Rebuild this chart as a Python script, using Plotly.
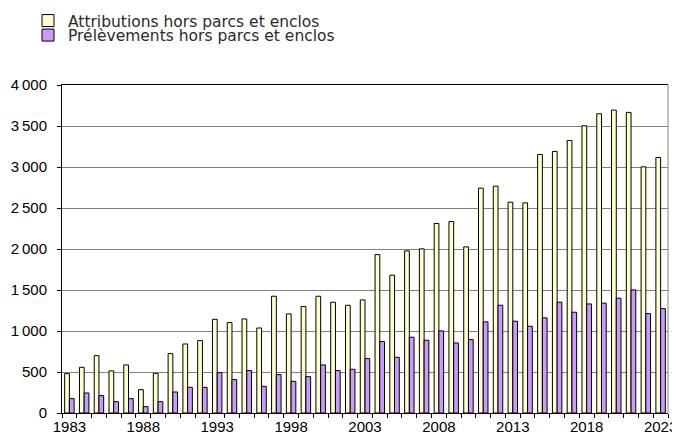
import plotly.graph_objects as go

years = list(range(1983, 2024))
attributions = [480, 557, 700, 513, 586, 285, 484, 724, 842, 883,
                1143, 1103, 1147, 1037, 1424, 1208, 1298, 1424, 1351, 1314,
                1379, 1932, 1680, 1977, 2002, 2311, 2335, 2026, 2742, 2766,
                2571, 2563, 3153, 3190, 3324, 3503, 3649, 3694, 3666, 3002,
                3116]
prelevements = [175, 244, 212, 138, 175, 77, 138, 256, 313, 313,
                492, 407, 517, 325, 468, 386, 443, 586, 517, 533,
                663, 871, 679, 924, 887, 1001, 854, 895, 1111, 1314,
                1119, 1058, 1160, 1351, 1229, 1330, 1339, 1400, 1501, 1212,
                1273]
x_labels = [y for y in years if (y - 1983) % 5 == 0]
y_ticks = [0, 500, 1000, 1500, 2000, 2500, 3000, 3500, 4000]
y_ticktext = [f"{v:,}".replace(",", "\u2009") for v in y_ticks]

# The page body adds an 8px offset; the figure is sized so the visible area is 680x439.
W, H = 672, 431

fig = go.Figure()
fig.add_trace(go.Bar(x=years, y=attributions, name="Attributions hors parcs et enclos",
                     marker=dict(color="#FFFFCC", line=dict(color="black", width=1)),
                     legend="legend"))
fig.add_trace(go.Bar(x=years, y=prelevements, name="Prélèvements hors parcs et enclos",
                     marker=dict(color="#CC99FF", line=dict(color="black", width=1)),
                     legend="legend2"))

legend_font = dict(family="DejaVu Sans", size=15.5, color="#2a2a2a")
fig.update_layout(
    width=W, height=H,
    margin=dict(l=54, r=12, t=77, b=26, autoexpand=False),
    paper_bgcolor="white", plot_bgcolor="white",
    barmode="group", bargap=0.36, bargroupgap=0,
    showlegend=True,
    legend=dict(xref="container", yref="container", x=20 / W, y=1 - 13 / H,
                xanchor="left", yanchor="middle", font=legend_font,
                bgcolor="rgba(0,0,0,0)"),
    legend2=dict(xref="container", yref="container", x=20 / W, y=1 - 27.5 / H,
                 xanchor="left", yanchor="middle", font=legend_font,
                 bgcolor="rgba(0,0,0,0)"),
    xaxis=dict(range=[years[0] - 0.5, years[-1] + 0.5], tickmode="array",
               tickvals=x_labels, ticktext=[str(v) for v in x_labels],
               ticks="outside", ticklen=0, showgrid=False,
               showline=True, linecolor="black", linewidth=1, mirror=True,
               tickfont=dict(family="Liberation Sans", size=15, color="black"),
               minor=dict(tickmode="array", tickvals=[y - 0.5 for y in years] + [years[-1] + 0.5],
                          ticks="outside", ticklen=4, tickcolor="black", showgrid=False)),
    yaxis=dict(range=[0, 4000], tickmode="array", tickvals=y_ticks, ticktext=y_ticktext,
               ticks="outside", ticklen=4, tickcolor="black",
               showgrid=True, gridcolor="#808080", gridwidth=1,
               showline=True, linecolor="black", linewidth=1, zeroline=False,
               ticklabelstandoff=7,
               tickfont=dict(family="Liberation Sans", size=15, color="black")),
    shapes=[dict(type="line", xref="paper", yref="paper", x0=1, x1=1, y0=0, y1=1,
                 line=dict(color="#808080", width=1))],
)

fig.write_html("out.html")
